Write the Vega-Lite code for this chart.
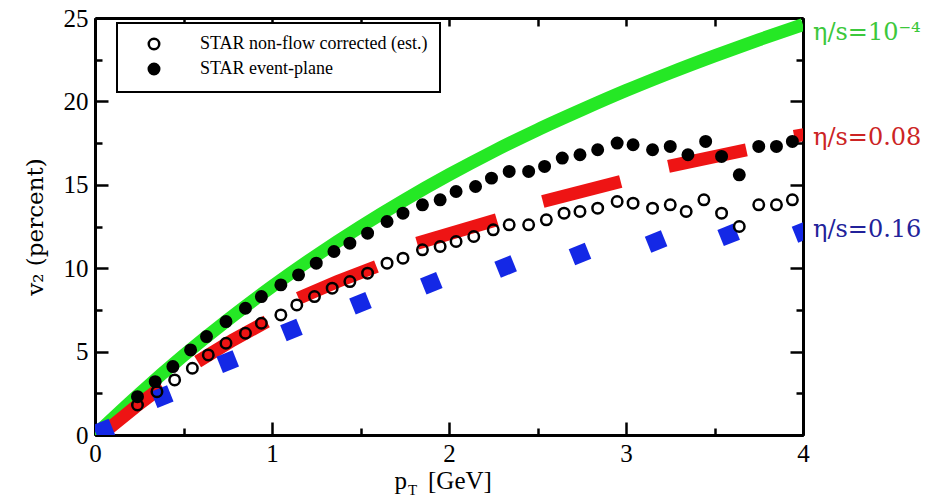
{
  "$schema": "https://vega.github.io/schema/vega-lite/v6.json",
  "width": 708,
  "height": 417,
  "autosize": {"type": "none"},
  "padding": {"left": 95, "top": 18, "right": 131, "bottom": 62},
  "background": "white",
  "config": {
    "view": {"stroke": null},
    "axis": {
      "grid": false,
      "domainColor": "black",
      "domainWidth": 3,
      "tickColor": "black",
      "tickWidth": 2.5,
      "labelFont": "Liberation Serif",
      "labelFontSize": 25,
      "labelColor": "black",
      "titleFont": "DejaVu Serif",
      "titleColor": "black",
      "titleFontWeight": "normal",
      "labelOverlap": false,
      "labelFlush": false,
      "labelBound": false,
      "zindex": 1
    },
    "legend": {
      "orient": "none",
      "legendX": 22,
      "legendY": 5,
      "padding": 12,
      "strokeColor": "black",
      "strokeWidth": 2,
      "fillColor": "white",
      "labelFont": "Liberation Serif",
      "labelFontSize": 18,
      "labelColor": "black",
      "labelLimit": 400,
      "symbolOffset": 16,
      "labelOffset": 37,
      "rowPadding": 3,
      "symbolStrokeColor": "black",
      "symbolStrokeWidth": 2.5,
      "symbolSize": 110,
      "symbolType": "circle"
    }
  },
  "datasets": {
    "green": [
      {"pT": 0, "v2": 0}, {"pT": 0.25, "v2": 2.46}, {"pT": 0.5, "v2": 4.76}, {"pT": 0.75, "v2": 6.9},
      {"pT": 1.0, "v2": 8.9}, {"pT": 1.25, "v2": 10.76}, {"pT": 1.5, "v2": 12.49}, {"pT": 1.75, "v2": 14.1},
      {"pT": 2.0, "v2": 15.6}, {"pT": 2.25, "v2": 17.0}, {"pT": 2.5, "v2": 18.3}, {"pT": 2.75, "v2": 19.5},
      {"pT": 3.0, "v2": 20.65}, {"pT": 3.25, "v2": 21.72}, {"pT": 3.5, "v2": 22.73}, {"pT": 3.75, "v2": 23.69},
      {"pT": 4.0, "v2": 24.6}
    ],
    "red": [
      {"seg": 1, "pT": 0.08, "v2": 0.4}, {"seg": 1, "pT": 0.23, "v2": 1.7}, {"seg": 1, "pT": 0.38, "v2": 2.9},
      {"seg": 2, "pT": 0.58, "v2": 4.4}, {"seg": 2, "pT": 0.78, "v2": 5.7}, {"seg": 2, "pT": 0.97, "v2": 6.8},
      {"seg": 3, "pT": 1.15, "v2": 8.2}, {"seg": 3, "pT": 1.37, "v2": 9.2}, {"seg": 3, "pT": 1.59, "v2": 10.1},
      {"seg": 4, "pT": 1.82, "v2": 11.5}, {"seg": 4, "pT": 2.27, "v2": 12.9},
      {"seg": 5, "pT": 2.53, "v2": 14.0}, {"seg": 5, "pT": 2.97, "v2": 15.2},
      {"seg": 6, "pT": 3.24, "v2": 16.1}, {"seg": 6, "pT": 3.68, "v2": 17.1},
      {"seg": 7, "pT": 3.95, "v2": 17.9}, {"seg": 7, "pT": 4.05, "v2": 18.1}
    ],
    "blue": [
      {"pT": 0.05, "v2": 0.3}, {"pT": 0.38, "v2": 2.3}, {"pT": 0.75, "v2": 4.4}, {"pT": 1.11, "v2": 6.3},
      {"pT": 1.5, "v2": 7.9}, {"pT": 1.9, "v2": 9.1}, {"pT": 2.32, "v2": 10.1}, {"pT": 2.74, "v2": 10.85},
      {"pT": 3.17, "v2": 11.6}, {"pT": 3.58, "v2": 12.0}, {"pT": 4.0, "v2": 12.2}
    ],
    "star": [
      {"series": "STAR event-plane", "pT": 0.24, "v2": 2.3}, {"series": "STAR event-plane", "pT": 0.34, "v2": 3.2},
      {"series": "STAR event-plane", "pT": 0.44, "v2": 4.1}, {"series": "STAR event-plane", "pT": 0.54, "v2": 5.1},
      {"series": "STAR event-plane", "pT": 0.63, "v2": 5.9}, {"series": "STAR event-plane", "pT": 0.74, "v2": 6.8},
      {"series": "STAR event-plane", "pT": 0.85, "v2": 7.6}, {"series": "STAR event-plane", "pT": 0.94, "v2": 8.3},
      {"series": "STAR event-plane", "pT": 1.05, "v2": 9.0}, {"series": "STAR event-plane", "pT": 1.15, "v2": 9.6},
      {"series": "STAR event-plane", "pT": 1.25, "v2": 10.3}, {"series": "STAR event-plane", "pT": 1.35, "v2": 11.0},
      {"series": "STAR event-plane", "pT": 1.44, "v2": 11.5}, {"series": "STAR event-plane", "pT": 1.54, "v2": 12.1},
      {"series": "STAR event-plane", "pT": 1.65, "v2": 12.8}, {"series": "STAR event-plane", "pT": 1.74, "v2": 13.3},
      {"series": "STAR event-plane", "pT": 1.85, "v2": 13.8}, {"series": "STAR event-plane", "pT": 1.95, "v2": 14.1},
      {"series": "STAR event-plane", "pT": 2.04, "v2": 14.6}, {"series": "STAR event-plane", "pT": 2.15, "v2": 14.9},
      {"series": "STAR event-plane", "pT": 2.24, "v2": 15.4}, {"series": "STAR event-plane", "pT": 2.34, "v2": 15.8},
      {"series": "STAR event-plane", "pT": 2.45, "v2": 15.8}, {"series": "STAR event-plane", "pT": 2.54, "v2": 16.1},
      {"series": "STAR event-plane", "pT": 2.64, "v2": 16.6}, {"series": "STAR event-plane", "pT": 2.74, "v2": 16.8},
      {"series": "STAR event-plane", "pT": 2.84, "v2": 17.1}, {"series": "STAR event-plane", "pT": 2.95, "v2": 17.5},
      {"series": "STAR event-plane", "pT": 3.04, "v2": 17.4}, {"series": "STAR event-plane", "pT": 3.15, "v2": 17.1},
      {"series": "STAR event-plane", "pT": 3.25, "v2": 17.3}, {"series": "STAR event-plane", "pT": 3.35, "v2": 16.8},
      {"series": "STAR event-plane", "pT": 3.45, "v2": 17.6}, {"series": "STAR event-plane", "pT": 3.54, "v2": 16.7},
      {"series": "STAR event-plane", "pT": 3.64, "v2": 15.6}, {"series": "STAR event-plane", "pT": 3.75, "v2": 17.3},
      {"series": "STAR event-plane", "pT": 3.85, "v2": 17.3}, {"series": "STAR event-plane", "pT": 3.94, "v2": 17.6},
      {"series": "STAR non-flow corrected (est.)", "pT": 0.24, "v2": 1.8}, {"series": "STAR non-flow corrected (est.)", "pT": 0.35, "v2": 2.6},
      {"series": "STAR non-flow corrected (est.)", "pT": 0.45, "v2": 3.3}, {"series": "STAR non-flow corrected (est.)", "pT": 0.55, "v2": 4.0},
      {"series": "STAR non-flow corrected (est.)", "pT": 0.64, "v2": 4.8}, {"series": "STAR non-flow corrected (est.)", "pT": 0.74, "v2": 5.5},
      {"series": "STAR non-flow corrected (est.)", "pT": 0.85, "v2": 6.1}, {"series": "STAR non-flow corrected (est.)", "pT": 0.94, "v2": 6.7},
      {"series": "STAR non-flow corrected (est.)", "pT": 1.05, "v2": 7.2}, {"series": "STAR non-flow corrected (est.)", "pT": 1.14, "v2": 7.8},
      {"series": "STAR non-flow corrected (est.)", "pT": 1.24, "v2": 8.3}, {"series": "STAR non-flow corrected (est.)", "pT": 1.34, "v2": 8.8},
      {"series": "STAR non-flow corrected (est.)", "pT": 1.44, "v2": 9.2}, {"series": "STAR non-flow corrected (est.)", "pT": 1.54, "v2": 9.7},
      {"series": "STAR non-flow corrected (est.)", "pT": 1.65, "v2": 10.3}, {"series": "STAR non-flow corrected (est.)", "pT": 1.74, "v2": 10.6},
      {"series": "STAR non-flow corrected (est.)", "pT": 1.85, "v2": 11.1}, {"series": "STAR non-flow corrected (est.)", "pT": 1.95, "v2": 11.3},
      {"series": "STAR non-flow corrected (est.)", "pT": 2.04, "v2": 11.6}, {"series": "STAR non-flow corrected (est.)", "pT": 2.14, "v2": 11.9},
      {"series": "STAR non-flow corrected (est.)", "pT": 2.25, "v2": 12.3}, {"series": "STAR non-flow corrected (est.)", "pT": 2.34, "v2": 12.6},
      {"series": "STAR non-flow corrected (est.)", "pT": 2.45, "v2": 12.6}, {"series": "STAR non-flow corrected (est.)", "pT": 2.55, "v2": 12.9},
      {"series": "STAR non-flow corrected (est.)", "pT": 2.65, "v2": 13.3}, {"series": "STAR non-flow corrected (est.)", "pT": 2.74, "v2": 13.4},
      {"series": "STAR non-flow corrected (est.)", "pT": 2.84, "v2": 13.6}, {"series": "STAR non-flow corrected (est.)", "pT": 2.95, "v2": 14.0},
      {"series": "STAR non-flow corrected (est.)", "pT": 3.04, "v2": 13.9}, {"series": "STAR non-flow corrected (est.)", "pT": 3.15, "v2": 13.6},
      {"series": "STAR non-flow corrected (est.)", "pT": 3.25, "v2": 13.8}, {"series": "STAR non-flow corrected (est.)", "pT": 3.34, "v2": 13.4},
      {"series": "STAR non-flow corrected (est.)", "pT": 3.44, "v2": 14.1}, {"series": "STAR non-flow corrected (est.)", "pT": 3.54, "v2": 13.3},
      {"series": "STAR non-flow corrected (est.)", "pT": 3.64, "v2": 12.5}, {"series": "STAR non-flow corrected (est.)", "pT": 3.75, "v2": 13.8},
      {"series": "STAR non-flow corrected (est.)", "pT": 3.85, "v2": 13.8}, {"series": "STAR non-flow corrected (est.)", "pT": 3.94, "v2": 14.1}
    ]
  },
  "resolve": {"axis": {"x": "independent", "y": "independent"}},
  "layer": [
    {
      "data": {"name": "green"},
      "mark": {"type": "line", "color": "#25e825", "strokeWidth": 13, "strokeCap": "butt", "clip": true, "interpolate": "monotone"},
      "encoding": {
        "x": {"field": "pT", "type": "quantitative", "scale": {"domain": [0, 4], "nice": false, "zero": false},
              "axis": {"orient": "bottom", "values": [0, 1, 2, 3, 4], "tickSize": -13, "labelPadding": 19, "title": null, "format": "d"}},
        "y": {"field": "v2", "type": "quantitative", "scale": {"domain": [0, 25], "nice": false, "zero": false},
              "axis": {"orient": "left", "values": [0, 5, 10, 15, 20, 25], "tickSize": -13, "labelPadding": 20, "format": "d",
                       "title": "v₂ (percent)", "titleFontSize": 23, "titlePadding": 16}}
      }
    },
    {
      "data": {"name": "red"},
      "mark": {"type": "line", "color": "#ee1414", "strokeWidth": 13, "strokeCap": "butt", "clip": true},
      "encoding": {
        "detail": {"field": "seg", "type": "nominal"},
        "x": {"field": "pT", "type": "quantitative", "scale": {"domain": [0, 4], "nice": false, "zero": false},
              "axis": {"orient": "bottom", "values": [0.5, 1.5, 2.5, 3.5], "tickSize": -7, "labels": false, "title": null}},
        "y": {"field": "v2", "type": "quantitative", "scale": {"domain": [0, 25], "nice": false, "zero": false},
              "axis": {"orient": "left", "values": [2.5, 7.5, 12.5, 17.5, 22.5], "tickSize": -7, "labels": false, "title": null}}
      }
    },
    {
      "data": {"name": "blue"},
      "mark": {"type": "point", "shape": "square", "filled": true, "color": "#1428e6", "opacity": 1, "size": 300, "angle": 338, "clip": true},
      "encoding": {
        "x": {"field": "pT", "type": "quantitative", "scale": {"domain": [0, 4], "nice": false, "zero": false},
              "axis": {"orient": "top", "values": [0, 0.5, 1, 1.5, 2, 2.5, 3, 3.5, 4], "tickSize": -8, "labels": false, "title": null}},
        "y": {"field": "v2", "type": "quantitative", "scale": {"domain": [0, 25], "nice": false, "zero": false},
              "axis": {"orient": "right", "values": [0, 5, 10, 15, 20, 25], "tickSize": -13, "labels": false, "title": null}}
      }
    },
    {
      "data": {"name": "star"},
      "mark": {"type": "point", "shape": "circle", "filled": true, "stroke": "black", "strokeWidth": 2.5, "size": 110, "opacity": 1},
      "encoding": {
        "x": {"field": "pT", "type": "quantitative", "scale": {"domain": [0, 4], "nice": false, "zero": false}, "axis": null},
        "y": {"field": "v2", "type": "quantitative", "scale": {"domain": [0, 25], "nice": false, "zero": false},
              "axis": {"orient": "right", "values": [2.5, 7.5, 12.5, 17.5, 22.5], "tickSize": -7, "labels": false, "title": null}},
        "fill": {"field": "series", "type": "nominal",
                 "scale": {"domain": ["STAR non-flow corrected (est.)", "STAR event-plane"], "range": ["transparent", "black"]},
                 "legend": {"title": null}}
      }
    },
    {
      "data": {"values": [{}]},
      "mark": {"type": "text", "text": "η/s=10⁻⁴", "align": "left", "baseline": "middle", "dx": 10, "font": "DejaVu Serif", "fontSize": 24, "color": "#3cc83c"},
      "encoding": {
        "x": {"datum": 4, "type": "quantitative", "scale": {"domain": [0, 4], "nice": false, "zero": false}, "axis": null},
        "y": {"datum": 24.1, "type": "quantitative", "scale": {"domain": [0, 25], "nice": false, "zero": false}, "axis": null}
      }
    },
    {
      "data": {"values": [{}]},
      "mark": {"type": "text", "text": "η/s=0.08", "align": "left", "baseline": "middle", "dx": 10, "font": "DejaVu Serif", "fontSize": 24, "color": "#cc2424"},
      "encoding": {
        "x": {"datum": 4, "type": "quantitative", "scale": {"domain": [0, 4], "nice": false, "zero": false}, "axis": null},
        "y": {"datum": 17.8, "type": "quantitative", "scale": {"domain": [0, 25], "nice": false, "zero": false}, "axis": null}
      }
    },
    {
      "data": {"values": [{}]},
      "mark": {"type": "text", "text": "η/s=0.16", "align": "left", "baseline": "middle", "dx": 10, "font": "DejaVu Serif", "fontSize": 24, "color": "#22229a"},
      "encoding": {
        "x": {"datum": 4, "type": "quantitative", "scale": {"domain": [0, 4], "nice": false, "zero": false}, "axis": null},
        "y": {"datum": 12.3, "type": "quantitative", "scale": {"domain": [0, 25], "nice": false, "zero": false}, "axis": null}
      }
    },
    {
      "data": {"values": [{}]},
      "mark": {"type": "text", "text": "p", "align": "right", "baseline": "alphabetic", "dx": -42, "dy": 54, "font": "Liberation Serif", "fontSize": 25, "color": "black"},
      "encoding": {
        "x": {"datum": 2, "type": "quantitative", "scale": {"domain": [0, 4], "nice": false, "zero": false}, "axis": null},
        "y": {"datum": 0, "type": "quantitative", "scale": {"domain": [0, 25], "nice": false, "zero": false}, "axis": null}
      }
    },
    {
      "data": {"values": [{}]},
      "mark": {"type": "text", "text": "T", "align": "left", "baseline": "alphabetic", "dx": -41, "dy": 60, "font": "Liberation Serif", "fontSize": 15, "color": "black"},
      "encoding": {
        "x": {"datum": 2, "type": "quantitative", "scale": {"domain": [0, 4], "nice": false, "zero": false}, "axis": null},
        "y": {"datum": 0, "type": "quantitative", "scale": {"domain": [0, 25], "nice": false, "zero": false}, "axis": null}
      }
    },
    {
      "data": {"values": [{}]},
      "mark": {"type": "text", "text": "[GeV]", "align": "left", "baseline": "alphabetic", "dx": -21, "dy": 54, "font": "Liberation Serif", "fontSize": 25, "color": "black"},
      "encoding": {
        "x": {"datum": 2, "type": "quantitative", "scale": {"domain": [0, 4], "nice": false, "zero": false}, "axis": null},
        "y": {"datum": 0, "type": "quantitative", "scale": {"domain": [0, 25], "nice": false, "zero": false}, "axis": null}
      }
    }
  ]
}
